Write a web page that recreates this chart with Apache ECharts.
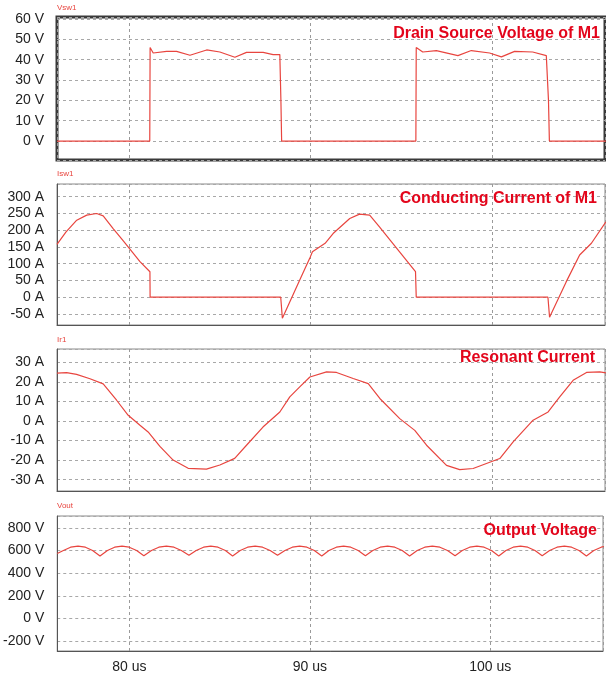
<!DOCTYPE html>
<html>
<head>
<meta charset="utf-8">
<script src="https://cdn.jsdelivr.net/npm/echarts@6/dist/echarts.min.js"></script>
<style>html,body{margin:0;padding:0;background:#fff;}#c{width:606px;height:676px;}</style>
</head>
<body>
<div id="c"></div>
<script>
// ---- data (time in us) ----
const xTickLabels = ['80 us', '90 us', '100 us'];
const panelTitles = ['Drain Source Voltage of M1', 'Conducting Current of M1', 'Resonant Current', 'Output Voltage'];
const traceNames = ['Vsw1', 'Isw1', 'Ir1', 'Vout'];
const units = ['V', 'A', 'A', 'V'];

const vsw1 = [
  [76.0,0],[81.12,0],[81.14,46],[81.31,43.3],[82.05,44.1],[82.6,44.1],[83.34,42.2],[84.26,44.8],[84.99,43.8],
  [85.82,41.2],[86.46,43.6],[87.38,43.6],[87.93,42.5],[88.3,42.5],[88.36,20],[88.4,0],
  [95.81,0],[95.83,46],[96.19,43.8],[96.94,44.5],[98.13,42],[98.87,44.5],[99.88,43.3],[100.53,41.4],
  [101.26,44.1],[102.26,43.8],[103.01,42],[103.09,42],[103.13,20],[103.18,0],[106.3,0]
];
const isw1 = [
  [76.0,158],[76.5,195],[77.09,230],[77.64,245],[78.19,250],[78.55,243],[79.1,205],[79.66,168],[80.58,106],
  [81.13,76],[81.14,0],[88.35,0],[88.44,-63],[89.4,51],[89.95,116],[90.1,136],[90.8,161],[91.24,190],
  [92.16,235],[92.7,248],[93.26,245],[93.8,210],[94.9,136],[95.79,76],[95.83,0],
  [103.1,0],[103.19,-60],[104.1,45],[104.85,126],[105.5,161],[106.3,225]
];
const ir1 = [
  [76.0,24.5],[76.53,24.7],[77.08,23.8],[77.82,21.6],[78.55,19.0],[79.29,10.6],[79.93,2.9],[80.58,-2.2],
  [81.03,-5.6],[81.68,-13.0],[82.41,-20.0],[83.24,-24.2],[84.25,-24.6],[84.99,-22.5],[85.81,-19.1],
  [86.46,-12.4],[87.37,-3.1],[88.30,4.6],[88.85,12.3],[89.40,17.4],[89.96,22.5],[90.88,25.1],[91.43,24.8],
  [92.35,21.7],[93.18,19.1],[93.82,11.5],[94.92,1.2],[95.75,-4.8],[96.40,-12.4],[97.50,-22.7],[98.23,-24.9],
  [98.97,-24.3],[100.44,-19.2],[101.18,-10.7],[102.28,0.4],[103.11,4.6],[103.75,12.3],[104.49,20.8],
  [105.23,24.8],[105.96,25.1],[106.3,24.6]
];
const vout = [
  [76.0,575],[76.34,601],[76.74,630],[77.15,640],[77.56,630],[77.96,601],[78.37,552],
  [78.78,601],[79.18,630],[79.59,640],[79.99,630],[80.4,601],[80.80,555],
  [81.22,601],[81.63,630],[82.05,640],[82.47,630],[82.88,601],[83.30,558],
  [83.70,601],[84.11,630],[84.51,640],[84.91,630],[85.32,601],[85.72,553],
  [86.14,601],[86.55,630],[86.97,640],[87.38,630],[87.80,601],[88.21,558],
  [88.62,601],[89.03,630],[89.44,640],[89.84,630],[90.25,601],[90.66,553],
  [91.06,601],[91.47,630],[91.87,640],[92.27,630],[92.68,601],[93.08,555],
  [93.49,601],[93.90,630],[94.31,640],[94.71,630],[95.12,601],[95.53,553],
  [95.95,601],[96.37,630],[96.79,640],[97.21,630],[97.63,601],[98.05,555],
  [98.45,601],[98.86,630],[99.26,640],[99.66,630],[100.07,601],[100.47,553],
  [100.87,601],[101.27,630],[101.68,640],[102.08,630],[102.48,601],[102.88,555],
  [103.29,601],[103.70,630],[104.11,640],[104.51,630],[104.92,601],[105.33,553],
  [105.74,601],[106.15,630],[106.3,636]
];
const seriesData = [vsw1, isw1, ir1, vout];
const yRanges = [[-9.3, 61, 10], [-83, 338, 50], [-35.8, 36.8, 10], [-288, 906, 200]];
const xRange = [76, 106.25, 10];

// ---- layout ----
const grids = [
  {top: 17, height: 143},
  {top: 184, height: 141},
  {top: 349, height: 142},
  {top: 516, height: 135}
];
const titleTops = [26, 191, 350, 523];
const titleRights = [6, 9, 11, 9];
const smallTops = [4, 170, 336, 502];
const RED = '#e8453f';

const chart = echarts.init(document.getElementById('c'));
const option = {
  animation: false,
  backgroundColor: '#fff',
  grid: grids.map((g, i) => ({
    left: 57, right: 1, top: g.top, height: g.height,
    show: true,
    borderColor: i === 0 ? '#3a3a3a' : '#8a8a8a',
    borderWidth: i === 0 ? 3 : 1,
    backgroundColor: '#fff'
  })),
  xAxis: grids.map((g, i) => ({
    type: 'value', gridIndex: i, min: xRange[0], max: xRange[1],
    minInterval: xRange[2], maxInterval: xRange[2],
    axisLine: {show: i !== 0, onZero: false, lineStyle: {color: '#555'}},
    axisTick: {show: false},
    axisLabel: {
      show: i === 3, margin: 9, fontSize: 14, color: '#222', fontFamily: 'Liberation Sans',
      formatter: v => {
        const k = [80, 90, 100].indexOf(Math.round(v * 1000) / 1000);
        return k >= 0 ? xTickLabels[k] : '';
      }
    },
    splitLine: {show: true, lineStyle: {color: '#9a9a9a', type: [3, 3], width: 1}}
  })),
  yAxis: grids.map((g, i) => ({
    type: 'value', gridIndex: i, min: yRanges[i][0], max: yRanges[i][1],
    minInterval: yRanges[i][2], maxInterval: yRanges[i][2],
    axisLine: {show: i !== 0, onZero: false, lineStyle: {color: '#555'}},
    axisTick: {show: false},
    axisLabel: {
      margin: 13, fontSize: 14, color: '#222', fontFamily: 'Liberation Sans',
      formatter: v => {
        const r = Math.round(v * 1000) / 1000;
        return (Math.abs(r % yRanges[i][2]) < 1e-6) ? r + ' ' + units[i] : '';
      }
    },
    splitLine: {show: true, lineStyle: {color: '#a8a8a8', type: [3, 3], width: 1}}
  })),
  title: panelTitles.map((t, i) => ({
    text: t, right: titleRights[i], top: titleTops[i], padding: 0,
    textStyle: {color: '#e3051b', fontSize: 16, fontWeight: 'bold', fontFamily: 'Liberation Sans'}
  })),
  graphic: traceNames.map((t, i) => ({
    type: 'text', left: 57, top: smallTops[i], z: 10,
    style: {text: t, fill: '#e8453f', font: '8px Liberation Sans'}
  })),
  series: seriesData.map((d, i) => ({
    type: 'line', xAxisIndex: i, yAxisIndex: i, data: d,
    showSymbol: false, symbol: 'none', smooth: false,
    lineStyle: {color: RED, width: 1.2},
    silent: true
  }))
};
chart.setOption(option);
</script>
</body>
</html>
